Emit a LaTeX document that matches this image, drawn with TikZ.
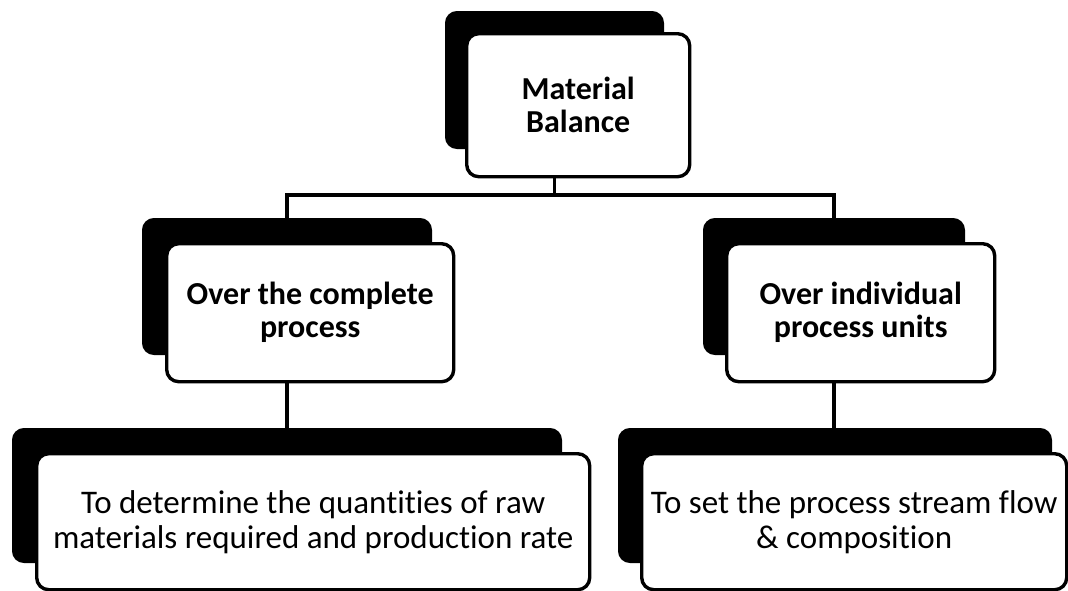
\documentclass[tikz,border=0pt]{standalone}
\usepackage{fontspec}
\setmainfont[Ligatures=NoCommon]{Carlito}
\begin{document}
\begin{tikzpicture}[x=1pt,y=-1pt,
  shadowbox/.style={draw=black, fill=black, line width=2pt, rounded corners=11pt, inner sep=0pt, anchor=north west},
  whitebox/.style={draw=black, fill=white, line width=3.4pt, rounded corners=12pt, inner sep=0pt, anchor=north west, align=center},
  headtext/.style={font=\fontsize{32}{33}\selectfont\bfseries},
  bodytext/.style={font=\fontsize{33}{35}\selectfont},
  conn/.style={draw=black, line width=3.6pt}]
\useasboundingbox (0,0) rectangle (1068,590);
% top
\node[shadowbox, minimum width=217pt, minimum height=136pt] (topsh) at (445,11) {};
\node[whitebox, headtext, minimum width=223pt, minimum height=143pt] (top) at (465,32) {Material\\Balance};
% middle
\node[shadowbox, minimum width=288pt, minimum height=135pt] (lsh) at (142,218) {};
\node[whitebox, headtext, minimum width=287pt, minimum height=138pt] (left) at (165,242) {Over the complete\\process};
\node[shadowbox, minimum width=260pt, minimum height=135pt] (rsh) at (703,218) {};
\node[whitebox, headtext, minimum width=268pt, minimum height=138pt] (right) at (725,242) {Over individual\\process units};
% bottom
\node[shadowbox, minimum width=548pt, minimum height=133pt] (blsh) at (12,428) {};
\node[whitebox, bodytext, minimum width=553pt, minimum height=136pt] (bl) at (35,452) {To determine the quantities of raw\\materials required and production rate};
\node[shadowbox, minimum width=432pt, minimum height=133pt] (brsh) at (618,428) {};
\node[whitebox, bodytext, minimum width=425pt, minimum height=136pt] (br) at (640,452) {To set the process stream flow\\\& composition};
% connectors
\coordinate (bus) at (0,195);
\draw[conn] (topsh.south |- top.south) -- (topsh.south |- bus) -| (lsh.north);
\draw[conn] (topsh.south |- bus) -| (rsh.north);
\draw[conn] (lsh.south |- left.south) -- (lsh.south |- blsh.north);
\draw[conn] (rsh.south |- right.south) -- (rsh.south |- brsh.north);
\end{tikzpicture}
\end{document}
